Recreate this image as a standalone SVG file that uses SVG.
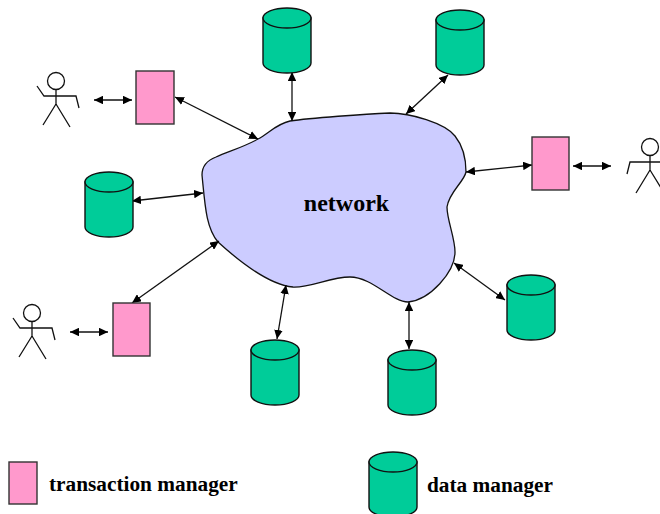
<svg xmlns="http://www.w3.org/2000/svg" width="660" height="514" viewBox="0 0 660 514">
<style>
.tm{fill:#ff99cc;stroke:#333;stroke-width:1.4}
.body{fill:#00cc99;stroke:#111;stroke-width:1.4}
.top{fill:#00cc99;stroke:#111;stroke-width:1.4}
.fig{fill:none;stroke:#111;stroke-width:1.3}
.con{fill:none;stroke:#111;stroke-width:1.3;marker-start:url(#a);marker-end:url(#a)}
.lbl{font-family:"Liberation Serif","Times New Roman",serif;font-weight:bold;fill:#000}
</style>
<defs>
<marker id="a" viewBox="0 0 10 10" refX="10" refY="5" markerWidth="9" markerHeight="8.500" markerUnits="userSpaceOnUse" orient="auto-start-reverse" preserveAspectRatio="none"><path d="M0 0L10 5L0 10Z" fill="#000"/></marker>
<g id="cyl"><path class="body" d="M0 10V55A24 10 0 0 0 48 55V10Z"/><ellipse class="top" cx="24" cy="10" rx="24" ry="10"/></g>
<g id="man" class="fig"><circle cx="0" cy="0" r="8.500"/><path d="M0 8.500V23M-19 5L-12 15H20L23 27M0 23L-13 44M0 23L14 46"/></g>
</defs>
<g id="network"><path d="M258 139C268 134 276 124 290 121C310 118 365 114 390 113C410 113 445 123 455 136C463 146 466 160 466 172C464 182 449 192 447 207C447 220 455 238 455 252C455 272 430 300 408 302C392 302 372 277 350 277C330 277 310 288 293 287C270 285 240 262 218 242C206 228 205 205 202 175C202 165 208 160 216 157C230 151 246 146 258 139Z" fill="#ccccff" stroke="#111" stroke-width="1.3"/><text class="lbl" x="346.500" y="211" font-size="24" text-anchor="middle">network</text></g>
<g id="connectors">
<line class="con" x1="94" y1="100" x2="132" y2="100"/>
<line class="con" x1="175" y1="97" x2="258" y2="139"/>
<line class="con" x1="292" y1="72" x2="292" y2="121"/>
<line class="con" x1="448" y1="75" x2="406" y2="114"/>
<line class="con" x1="532" y1="165" x2="466" y2="172"/>
<line class="con" x1="573" y1="166" x2="611" y2="166"/>
<line class="con" x1="132" y1="201" x2="203" y2="193"/>
<line class="con" x1="132" y1="303" x2="219" y2="241"/>
<line class="con" x1="70" y1="332" x2="108" y2="332"/>
<line class="con" x1="277" y1="339" x2="286" y2="285"/>
<line class="con" x1="409" y1="349" x2="409" y2="302"/>
<line class="con" x1="505" y1="300" x2="454" y2="263"/>
</g>
<g id="tm1"><rect class="tm" x="136" y="71" width="38" height="53"/></g>
<g id="tm2"><rect class="tm" x="532" y="137" width="37" height="53"/></g>
<g id="tm3"><rect class="tm" x="113" y="303" width="37" height="53"/></g>
<g id="dm1"><use href="#cyl" x="263" y="8"/></g>
<g id="dm2"><use href="#cyl" x="436" y="10"/></g>
<g id="dm3"><use href="#cyl" x="85" y="172"/></g>
<g id="dm4"><use href="#cyl" x="507" y="275"/></g>
<g id="dm5"><use href="#cyl" x="251" y="340"/></g>
<g id="dm6"><use href="#cyl" x="388" y="350"/></g>
<g id="user1"><use href="#man" x="56" y="81"/></g>
<g id="user2"><use href="#man" transform="translate(650 147) scale(-1 1)"/></g>
<g id="user3"><use href="#man" x="32" y="313"/></g>
<g id="legend-tm"><rect class="tm" x="9" y="462" width="28" height="42"/><text class="lbl" x="49" y="491" font-size="21.300">transaction manager</text></g>
<g id="legend-dm"><use href="#cyl" x="369" y="452"/><text class="lbl" x="427" y="492" font-size="21.300">data manager</text></g>
</svg>
